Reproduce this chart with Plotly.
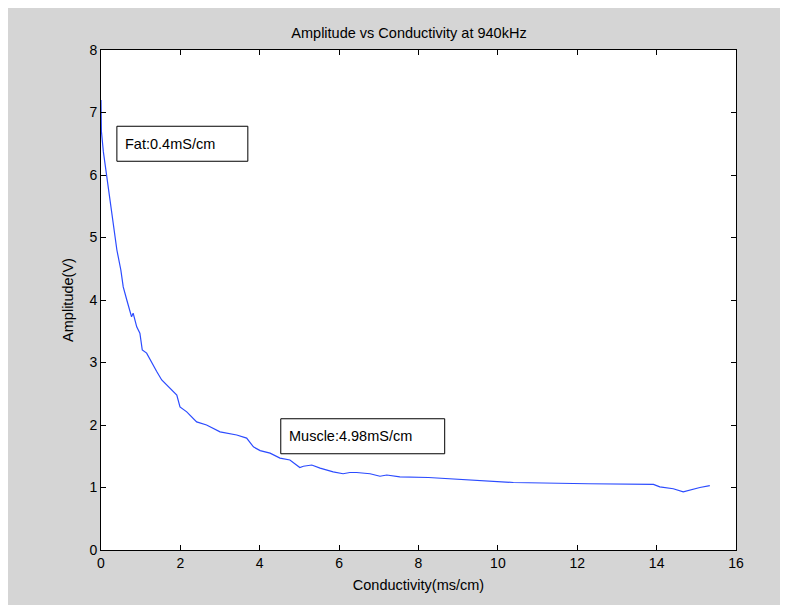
import plotly.graph_objects as go

# Data
conductivity = [0.00, 0.01, 0.06, 0.14, 0.23, 0.29, 0.34, 0.40, 0.50, 0.56, 0.65,
                0.77, 0.81, 0.90, 0.98, 1.01, 1.04, 1.15, 1.28, 1.40, 1.53, 1.74,
                1.91, 1.99, 2.16, 2.41, 2.66, 3.00, 3.42, 3.67, 3.84, 4.01, 4.26,
                4.51, 4.76, 5.01, 5.10, 5.31, 5.52, 5.85, 6.10, 6.27, 6.44, 6.78,
                7.03, 7.20, 7.53, 8.25, 8.96, 9.67, 10.39, 12.28, 13.92, 14.08,
                14.42, 14.67, 14.84, 15.09, 15.34]
amplitude = [7.20, 6.70, 6.37, 6.00, 5.55, 5.28, 5.09, 4.80, 4.48, 4.21, 4.00,
             3.73, 3.79, 3.57, 3.47, 3.36, 3.20, 3.15, 2.99, 2.86, 2.72, 2.59,
             2.48, 2.29, 2.21, 2.05, 2.00, 1.89, 1.84, 1.79, 1.65, 1.59, 1.55,
             1.47, 1.44, 1.32, 1.34, 1.36, 1.31, 1.25, 1.22, 1.24, 1.24, 1.22,
             1.18, 1.20, 1.17, 1.16, 1.13, 1.10, 1.08, 1.06, 1.05, 1.01,
             0.98, 0.93, 0.96, 1.00, 1.03]

x_ticks = [0, 2, 4, 6, 8, 10, 12, 14, 16]
y_ticks = [0, 1, 2, 3, 4, 5, 6, 7, 8]

labels = ["Fat:0.4mS/cm", "Muscle:4.98mS/cm"]
label_boxes = [(0.40, 3.70, 6.22, 6.78), (4.53, 8.66, 1.54, 2.10)]

FONT = "Liberation Sans, Arial, sans-serif"
BG = "#d5d5d5"
W, H = 780, 597

fig = go.Figure()
fig.add_trace(go.Scatter(x=conductivity, y=amplitude, mode="lines",
                         line=dict(color="#2b4bff", width=1.2),
                         showlegend=False, hoverinfo="skip"))

shapes = []
annotations = []
for text, (x0, x1, y0, y1) in zip(labels, label_boxes):
    shapes.append(dict(type="rect", xref="x", yref="y", x0=x0, x1=x1, y0=y0, y1=y1,
                       line=dict(color="black", width=1), fillcolor="white", layer="above"))
    annotations.append(dict(x=x0, y=(y0 + y1) / 2, xref="x", yref="y", text=text,
                            showarrow=False, xanchor="left", yanchor="middle", xshift=6,
                            font=dict(family=FONT, size=14.5, color="black")))

axis_common = dict(showline=True, linecolor="black", linewidth=1, mirror="ticks",
                   ticks="inside", ticklen=5, tickcolor="black", tickwidth=1,
                   showgrid=False, zeroline=False,
                   tickfont=dict(family=FONT, size=14, color="black"))

fig.update_layout(
    width=W, height=H,
    margin=dict(l=93, r=52, t=42, b=55),
    paper_bgcolor=BG, plot_bgcolor="white",
    title=dict(text="Amplitude vs Conductivity at 940kHz", x=401 / W, xanchor="center",
               y=1 - 25 / H, yanchor="middle",
               font=dict(family=FONT, size=14.5, color="black")),
    xaxis=dict(range=[0, 16], tickvals=x_ticks, ticktext=[str(v) for v in x_ticks],
               title=dict(text="Conductivity(ms/cm)", standoff=10,
                          font=dict(family=FONT, size=14.5, color="black")),
               **axis_common),
    yaxis=dict(range=[0, 8], tickvals=y_ticks, ticktext=[str(v) for v in y_ticks],
               title=dict(text="Amplitude(V)", standoff=12,
                          font=dict(family=FONT, size=14.5, color="black")),
               **axis_common),
    shapes=shapes, annotations=annotations,
)

fig.write_html("out.html")
